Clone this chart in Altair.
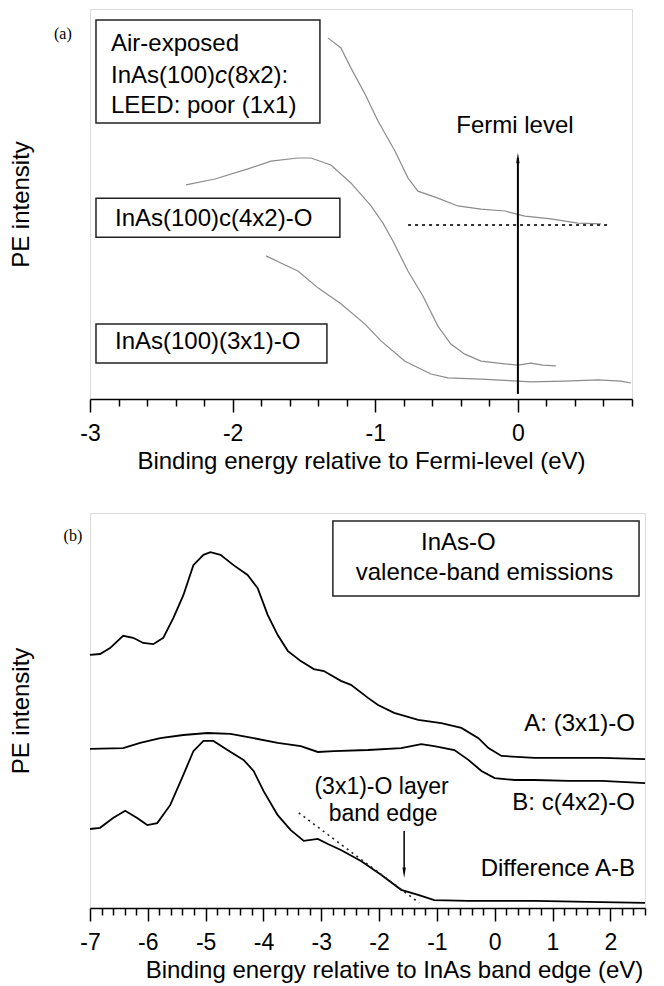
import altair as alt
import pandas as pd

FONT = "Liberation Sans, Arial, Helvetica, sans-serif"
SERIF = "Liberation Serif, Times New Roman, serif"

# ---------------- Panel (a) data ----------------
air_x = [-1.332, -1.241, -1.171, -1.072, -0.981, -0.862, -0.771, -0.701, -0.561, -0.421, -0.259, -0.091, 0.049, 0.231, 0.420, 0.582]
air_y = [92.6, 90.0, 84.9, 78.2, 71.3, 63.6, 56.7, 53.3, 51.5, 49.5, 48.7, 48.2, 46.9, 46.2, 45.1, 44.9]

c42_x = [-2.327, -2.124, -1.893, -1.731, -1.542, -1.451, -1.311, -1.171, -1.030, -0.946, -0.876, -0.771, -0.666, -0.561, -0.470, -0.372, -0.259, -0.091, 0.0, 0.091, 0.175, 0.266]
c42_y = [54.9, 56.4, 59.0, 61.0, 61.8, 61.8, 60.0, 55.4, 49.5, 45.1, 40.5, 32.8, 26.4, 18.7, 14.1, 11.5, 9.7, 9.0, 8.7, 9.2, 8.7, 8.5]

c31_x = [-1.766, -1.647, -1.542, -1.402, -1.241, -1.072, -0.960, -0.792, -0.610, -0.491, -0.259, 0.0, 0.091, 0.329, 0.561, 0.722, 0.792]
c31_y = [36.7, 34.6, 32.8, 28.5, 24.4, 19.2, 14.9, 9.7, 6.4, 5.4, 5.1, 4.6, 4.4, 4.6, 4.9, 4.6, 4.1]

fermi_dot_x = [-0.77, 0.65]
fermi_dot_y = [44.6, 44.6]

fermi_x = [0.0]
fermi_y = [61.8]
fermi_y2 = [1.3]

a_box_x = [-2.958, -2.958, -2.958]
a_box_x2 = [-1.388, -1.248, -1.339]
a_box_y = [97.2, 51.5, 19.2]
a_box_y2 = [70.8, 41.5, 9.2]

a_left_text = ["Air-exposed", "InAs(100)", "(8x2):", "LEED: poor (1x1)", "InAs(100)c(4x2)-O", "InAs(100)(3x1)-O"]
a_left_x = [-2.853, -2.853, -2.040, -2.853, -2.825, -2.825]
a_left_y = [89.2, 81.0, 81.0, 73.3, 44.4, 12.8]

a_italic_text = ["c"]
a_italic_x = [-2.124]
a_italic_y = [81.0]

a_center_text = ["Fermi level"]
a_center_x = [-0.021]
a_center_y = [68.2]

a_tag = ["(a)"]
a_tag_x = [-3.19]
a_tag_y = [93.6]

a_ticks = [-3.0, -2.8, -2.6, -2.4, -2.2, -2.0, -1.8, -1.6, -1.4, -1.2, -1.0,
           -0.8, -0.6, -0.4, -0.2, 0.0, 0.2, 0.4, 0.6, 0.8]

# ---------------- Panel (b) data ----------------
A_x = [-7.0, -6.826, -6.653, -6.427, -6.253, -6.080, -5.906, -5.733, -5.559, -5.385, -5.212, -5.038, -4.917, -4.743, -4.517, -4.274, -4.101, -3.927, -3.753, -3.580, -3.354, -3.128, -2.955, -2.660, -2.486, -2.191, -2.017, -1.740, -1.323, -0.924, -0.576, -0.281, -0.108, 0.118, 0.691, 1.281, 1.854, 2.601]
A_y = [64.1, 64.3, 65.8, 68.9, 68.4, 67.1, 66.8, 68.4, 73.4, 79.2, 86.8, 89.4, 90.1, 89.4, 86.8, 84.3, 81.0, 74.2, 69.1, 65.1, 62.5, 60.5, 60.0, 57.5, 56.5, 53.2, 51.4, 49.4, 47.6, 46.8, 45.6, 43.0, 40.5, 38.5, 38.0, 38.0, 38.0, 37.7]

B_x = [-7.0, -6.427, -6.132, -5.785, -5.385, -4.969, -4.569, -4.170, -3.753, -3.354, -3.059, -2.781, -2.191, -1.618, -1.271, -1.045, -0.698, -0.455, -0.229, 0.0, 0.347, 0.691, 1.281, 1.854, 2.601]
B_y = [40.3, 40.5, 41.8, 43.0, 43.8, 44.3, 44.1, 43.0, 41.8, 41.0, 39.5, 39.7, 40.0, 40.5, 41.5, 41.0, 40.0, 37.5, 34.7, 32.9, 32.4, 32.4, 32.2, 32.2, 31.6]

D_x = [-7.0, -6.826, -6.601, -6.392, -6.184, -6.010, -5.837, -5.611, -5.385, -5.212, -5.038, -4.865, -4.622, -4.344, -4.170, -3.997, -3.753, -3.528, -3.302, -3.059, -2.885, -2.660, -2.313, -1.965, -1.618, -1.323, -1.045, -0.455, 0.691, 1.854, 2.601]
D_y = [20.0, 20.3, 22.8, 24.6, 22.8, 21.0, 21.5, 26.1, 33.7, 39.7, 42.3, 42.3, 40.0, 37.5, 34.7, 29.6, 23.5, 19.7, 17.0, 17.5, 16.2, 14.7, 11.9, 8.4, 4.6, 3.3, 2.0, 1.8, 1.8, 1.5, 1.3]

edge_x = [-3.389, -1.306]
edge_y = [24.1, 1.3]

edge_arrow_x = [-1.566]
edge_arrow_y = [19.5]
edge_arrow_y2 = [8.9]

b_box_x = [-2.799]
b_box_x2 = [2.497]
b_box_y = [98.0]
b_box_y2 = [79.0]

b_center_text = ["InAs-O", "valence-band emissions"]
b_center_x = [-0.628, -0.177]
b_center_y = [90.6, 83.0]

b_edge_text = ["(3x1)-O layer", "band edge"]
b_edge_x = [-1.957, -1.93]
b_edge_y = [28.9, 21.9]

b_right_text = ["A: (3x1)-O", "B: c(4x2)-O", "Difference A-B"]
b_right_x = [2.427, 2.427, 2.427]
b_right_y = [44.8, 24.8, 8.1]

b_tag = ["(b)"]
b_tag_x = [-7.295]
b_tag_y = [94.2]

b_ticks = [-7.0, -6.8, -6.6, -6.4, -6.2, -6.0, -5.8, -5.6, -5.4, -5.2, -5.0, -4.8, -4.6, -4.4, -4.2,
           -4.0, -3.8, -3.6, -3.4, -3.2, -3.0, -2.8, -2.6, -2.4, -2.2, -2.0, -1.8, -1.6, -1.4, -1.2,
           -1.0, -0.8, -0.6, -0.4, -0.2, 0.0, 0.2, 0.4, 0.6, 0.8, 1.0, 1.2, 1.4, 1.6, 1.8, 2.0, 2.2, 2.4, 2.6]

# ---------------- helpers ----------------
MAJOR = "abs(datum.value - round(datum.value)) < 0.01"


def x_axis(values, title, title_x=None):
    kw = dict(
        values=values, title=title, grid=False,
        domainColor="black", domainWidth=1.5,
        tickColor="black", tickWidth=1.5,
        tickSize={"condition": {"test": "!(" + MAJOR + ")", "value": 7}, "value": 13},
        labelExpr=MAJOR + " ? '' + round(datum.value) : ''",
        labelFont=FONT, labelFontSize=23, labelColor="black", labelPadding=10,
        labelOverlap=False, labelFlush=False,
        titleFont=FONT, titleFontSize=24, titleFontWeight="normal", titleColor="black",
        titlePadding=4,
    )
    if title_x is not None:
        kw["titleX"] = title_x
    return alt.Axis(**kw)


Y_AXIS = alt.Axis(title="PE intensity", labels=False, ticks=False, domain=False, grid=False,
                  titleFont=FONT, titleFontSize=24, titleFontWeight="normal", titleColor="black",
                  titlePadding=57)


def panel(domain, ticks, title, width, height, layers_spec, title_x=None):
    X = alt.X("x:Q", scale=alt.Scale(domain=domain, nice=False, zero=False), axis=x_axis(ticks, title, title_x))
    Y = alt.Y("y:Q", scale=alt.Scale(domain=[0, 100], nice=False, zero=False), axis=Y_AXIS)
    return alt.layer(*[f(X, Y) for f in layers_spec]).properties(width=width, height=height)


def df(**cols):
    return pd.DataFrame(cols)


# ---------------- panel (a) ----------------
lines_a = pd.concat([
    df(x=air_x, y=air_y, series="air"),
    df(x=c42_x, y=c42_y, series="c42"),
    df(x=c31_x, y=c31_y, series="c31"),
])

ARROW_UP = "M0,-1L0.32,1L-0.32,1Z"
ARROW_DOWN = "M0,1L0.32,-1L-0.32,-1Z"

layers_a = [
    lambda X, Y: alt.Chart(df(x=a_box_x, x2=a_box_x2, y=a_box_y, y2=a_box_y2)).mark_rect(
        fill="white", fillOpacity=0, stroke="#222222", strokeWidth=1.5).encode(X, Y, x2="x2:Q", y2="y2:Q"),
    lambda X, Y: alt.Chart(lines_a).mark_line(color="#8c8c8c", strokeWidth=1.2).encode(X, Y, detail="series:N"),
    lambda X, Y: alt.Chart(df(x=fermi_dot_x, y=fermi_dot_y)).mark_line(
        color="#333333", strokeWidth=2, strokeDash=[3, 4]).encode(X, Y),
    lambda X, Y: alt.Chart(df(x=fermi_x, y=fermi_y, y2=fermi_y2)).mark_rule(
        color="black", strokeWidth=2).encode(X, Y, y2="y2:Q"),
    lambda X, Y: alt.Chart(df(x=fermi_x, y=fermi_y)).mark_point(
        shape=ARROW_UP, filled=True, color="black", size=110, opacity=1).encode(X, Y),
    lambda X, Y: alt.Chart(df(x=a_left_x, y=a_left_y, text=a_left_text)).mark_text(
        align="left", baseline="alphabetic", font=FONT, fontSize=24, color="black").encode(X, Y, text="text:N"),
    lambda X, Y: alt.Chart(df(x=a_italic_x, y=a_italic_y, text=a_italic_text)).mark_text(
        align="left", baseline="alphabetic", font=FONT, fontSize=24, fontStyle="italic", color="black").encode(X, Y, text="text:N"),
    lambda X, Y: alt.Chart(df(x=a_center_x, y=a_center_y, text=a_center_text)).mark_text(
        align="center", baseline="alphabetic", font=FONT, fontSize=24, color="black").encode(X, Y, text="text:N"),
    lambda X, Y: alt.Chart(df(x=a_tag_x, y=a_tag_y, text=a_tag)).mark_text(
        align="center", baseline="middle", font=SERIF, fontSize=16, color="black").encode(X, Y, text="text:N"),
]

top = panel([-3, 0.8], a_ticks, "Binding energy relative to Fermi-level (eV)", 542, 390, layers_a)

# ---------------- panel (b) ----------------
lines_b = pd.concat([
    df(x=A_x, y=A_y, series="A"),
    df(x=B_x, y=B_y, series="B"),
    df(x=D_x, y=D_y, series="D"),
])

layers_b = [
    lambda X, Y: alt.Chart(df(x=b_box_x, x2=b_box_x2, y=b_box_y, y2=b_box_y2)).mark_rect(
        fill="white", fillOpacity=0, stroke="#222222", strokeWidth=1.5).encode(X, Y, x2="x2:Q", y2="y2:Q"),
    lambda X, Y: alt.Chart(lines_b).mark_line(color="black", strokeWidth=1.8).encode(X, Y, detail="series:N"),
    lambda X, Y: alt.Chart(df(x=edge_x, y=edge_y)).mark_line(
        color="#222222", strokeWidth=1.6, strokeDash=[2, 4]).encode(X, Y),
    lambda X, Y: alt.Chart(df(x=edge_arrow_x, y=edge_arrow_y, y2=edge_arrow_y2)).mark_rule(
        color="black", strokeWidth=1.5).encode(X, Y, y2="y2:Q"),
    lambda X, Y: alt.Chart(df(x=edge_arrow_x, y=edge_arrow_y2)).mark_point(
        shape=ARROW_DOWN, filled=True, color="black", size=110, opacity=1).encode(X, Y),
    lambda X, Y: alt.Chart(df(x=b_center_x, y=b_center_y, text=b_center_text)).mark_text(
        align="center", baseline="alphabetic", font=FONT, fontSize=24, color="black").encode(X, Y, text="text:N"),
    lambda X, Y: alt.Chart(df(x=b_edge_x, y=b_edge_y, text=b_edge_text)).mark_text(
        align="center", baseline="alphabetic", font=FONT, fontSize=23, color="black").encode(X, Y, text="text:N"),
    lambda X, Y: alt.Chart(df(x=b_right_x, y=b_right_y, text=b_right_text)).mark_text(
        align="right", baseline="alphabetic", font=FONT, fontSize=24, color="black").encode(X, Y, text="text:N"),
    lambda X, Y: alt.Chart(df(x=b_tag_x, y=b_tag_y, text=b_tag)).mark_text(
        align="center", baseline="middle", font=SERIF, fontSize=16, color="black").encode(X, Y, text="text:N"),
]

bottom = panel([-7, 2.6], b_ticks, "Binding energy relative to InAs band edge (eV)", 555, 395, layers_b, title_x=304)

chart = alt.vconcat(top, bottom, spacing=38).properties(padding=0).configure_view(
    stroke="black", strokeWidth=1.5
).configure(background="white")

chart.save("out.html", embed_options={"renderer": "svg", "actions": False})
